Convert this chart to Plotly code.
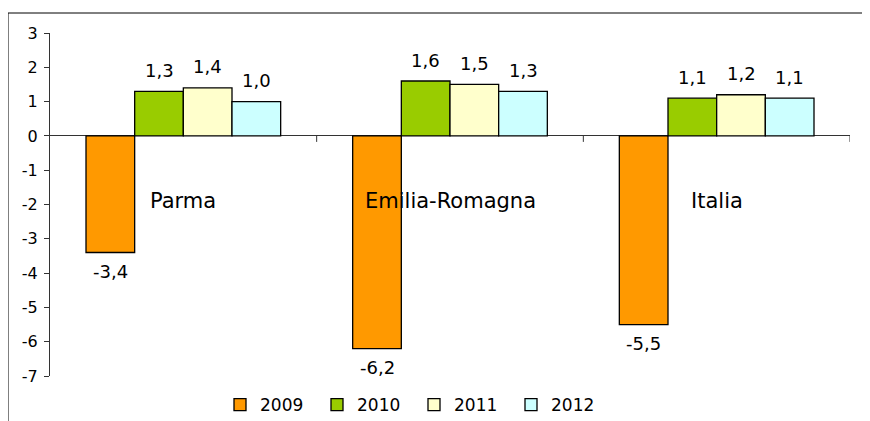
import plotly.graph_objects as go

categories = ["Parma", "Emilia-Romagna", "Italia"]
years = ["2009", "2010", "2011", "2012"]
v2009 = [-3.4, -6.2, -5.5]
v2010 = [1.3, 1.6, 1.1]
v2011 = [1.4, 1.5, 1.2]
v2012 = [1.0, 1.3, 1.1]
y_ticks = [3, 2, 1, 0, -1, -2, -3, -4, -5, -6, -7]

series = [v2009, v2010, v2011, v2012]
colors = ["#FF9900", "#99CC00", "#FFFFCC", "#CCFFFF"]
FONT = "DejaVu Sans"
bargap = 0.27

fig = go.Figure()
for name, vals, col in zip(years, series, colors):
    fig.add_trace(go.Bar(
        x=categories, y=vals, name=name,
        marker=dict(color=col, line=dict(color="black", width=1.3)),
    ))

n = len(series)
bw = (1 - bargap) / n
annotations = []
for j, vals in enumerate(series):
    off = (j - (n - 1) / 2) * bw
    for i, v in enumerate(vals):
        annotations.append(dict(
            x=i + off, y=v, xref="x", yref="y",
            text=f"{v:.1f}".replace(".", ","), showarrow=False,
            yshift=21 if v >= 0 else -19,
            font=dict(family=FONT, size=18, color="black"),
        ))
for i, c in enumerate(categories):
    annotations.append(dict(
        x=i, y=-1.9, xref="x", yref="y", text=c, showarrow=False,
        font=dict(family=FONT, size=21, color="black"),
    ))

shapes = []
for i in range(len(categories)):
    shapes.append(dict(type="line", xref="x", yref="y", x0=i + 0.5, x1=i + 0.5,
                       ysizemode="pixel", yanchor=0, y0=0, y1=-6,
                       line=dict(color="#333", width=1)))
# outer frame
shapes.append(dict(type="rect", xref="paper", yref="paper",
                   x0=-42 / 800, x1=1.2, y0=-0.5, y1=1 + 20 / 343,
                   line=dict(color="black", width=1), layer="below"))

fig.update_layout(
    width=870, height=421,
    margin=dict(l=42, r=28, t=25, b=53, autoexpand=False),
    paper_bgcolor="white", plot_bgcolor="white",
    barmode="group", bargap=bargap, bargroupgap=0,
    font=dict(family=FONT, color="black"),
    showlegend=True,
    legend=dict(orientation="h", x=0.455, xanchor="center",
                yref="container", y=0.057, yanchor="middle",
                font=dict(family=FONT, size=17), entrywidth=52, entrywidthmode="pixels",
                itemwidth=30, bgcolor="rgba(0,0,0,0)"),
    annotations=annotations, shapes=shapes,
)
fig.update_xaxes(range=[-0.5, len(categories) - 0.5], showline=False, showticklabels=False,
                 ticks="", showgrid=False, zeroline=False)
fig.update_yaxes(range=[-7, 3], tickvals=y_ticks, ticktext=[str(t) for t in y_ticks],
                 showline=True, linecolor="#333", linewidth=1, ticks="outside", ticklen=5,
                 tickcolor="#333", showgrid=False, zeroline=True, zerolinecolor="#333",
                 zerolinewidth=1, tickfont=dict(family=FONT, size=16), ticklabelstandoff=3)

fig.write_html("out.html")
